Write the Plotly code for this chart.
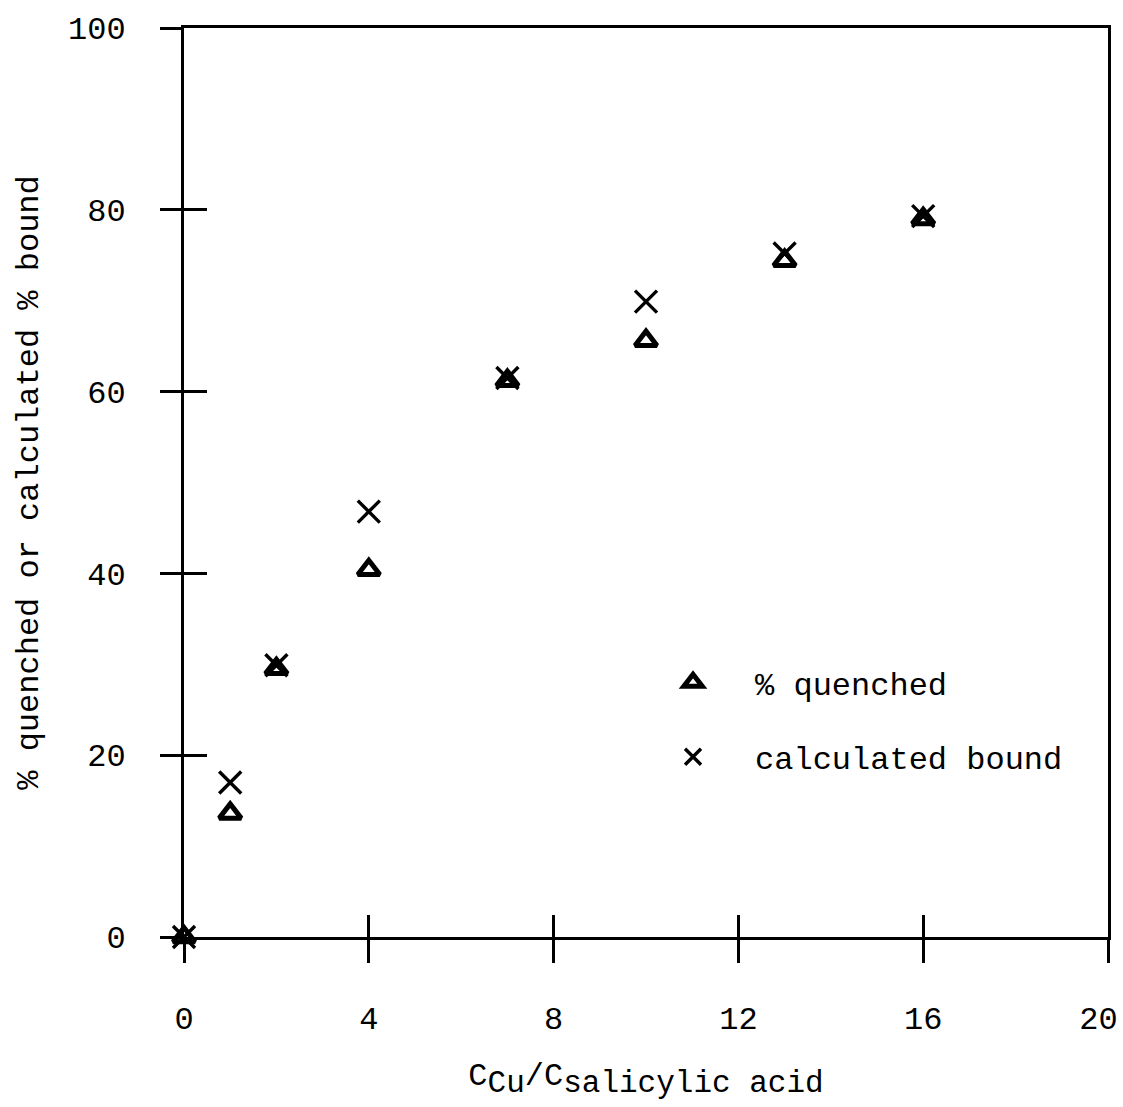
import plotly.graph_objects as go

# Copper / salicylic acid concentration ratio
ratio = [0, 1, 2, 4, 7, 10, 13, 16]
# Measured fluorescence quenching (%)
pct_quenched = [0, 13.6, 29.5, 40.4, 61.2, 65.6, 74.4, 79.0]
# Calculated fraction of salicylic acid bound (%)
pct_bound = [0, 17.0, 29.9, 46.8, 61.5, 69.9, 75.2, 79.3]

x_ticks = [0, 4, 8, 12, 16, 20]
# last label padded so it stays inside the page edge
x_tick_text = ["0", "4", "8", "12", "16", "20\u00a0"]
y_ticks = [0, 20, 40, 60, 80, 100]

FONT = "Liberation Mono, Courier New, monospace"
fs = 32

fig = go.Figure()

fig.add_trace(go.Scatter(
    x=ratio, y=pct_quenched, mode="markers", name="% quenched",
    marker=dict(symbol="triangle-up-open", size=19, color="black",
                line=dict(width=5, color="black")),
    cliponaxis=False, legend="legend",
))
fig.add_trace(go.Scatter(
    x=ratio, y=pct_bound, mode="markers", name="calculated bound",
    marker=dict(symbol="x-thin-open", size=22, color="black",
                line=dict(width=3.4, color="black")),
    cliponaxis=False, legend="legend2",
))

axis_common = dict(showgrid=False, zeroline=False, linecolor="black",
                   linewidth=3, tickcolor="black", tickwidth=3,
                   automargin=False)

sub = "<sub><span style='font-size:31px'>{}</span></sub>"
x_title = "C" + sub.format("Cu") + "/C" + sub.format("salicylic acid")

fig.update_layout(
    width=1123, height=1107,
    margin=dict(l=184, r=15, t=28, b=170, autoexpand=False),
    plot_bgcolor="white", paper_bgcolor="white",
    font=dict(family=FONT, size=fs, color="black"),
    xaxis=dict(range=[0, 20], tickvals=x_ticks, ticktext=x_tick_text,
               ticks="outside", ticklen=23,
               showline=True, mirror=True, ticklabelstandoff=28,
               ticklabeloverflow="allow",
               title=dict(text=x_title, standoff=25, font=dict(size=fs)),
               **axis_common),
    yaxis=dict(range=[0, 100], tickvals=y_ticks, ticks="outside", ticklen=21,
               showline=True, mirror=True, ticklabelstandoff=28,
               ticklabeloverflow="allow",
               title=dict(text="% quenched or calculated % bound",
                          standoff=20, font=dict(size=fs)),
               **axis_common),
    # inner halves of the crossing tick marks
    xaxis2=dict(range=[0, 20], tickvals=x_ticks, ticks="inside", ticklen=22,
                overlaying="x", showticklabels=False, showline=False,
                **axis_common),
    yaxis2=dict(range=[0, 100], tickvals=y_ticks, ticks="inside", ticklen=23,
                overlaying="y", showticklabels=False, showline=False,
                **axis_common),
    legend=dict(x=0.4838, y=0.28, xanchor="left", yanchor="middle",
                bgcolor="rgba(0,0,0,0)", itemwidth=114,
                font=dict(family=FONT, size=fs)),
    legend2=dict(x=0.4838, y=0.198, xanchor="left", yanchor="middle",
                 bgcolor="rgba(0,0,0,0)", itemwidth=114,
                 font=dict(family=FONT, size=fs)),
    showlegend=True,
)

# placeholder trace so the overlaid tick axes are drawn
fig.add_trace(go.Scatter(x=[None], y=[None], xaxis="x2", yaxis="y2",
                         showlegend=False, hoverinfo="skip"))

fig.write_html("out.html")
